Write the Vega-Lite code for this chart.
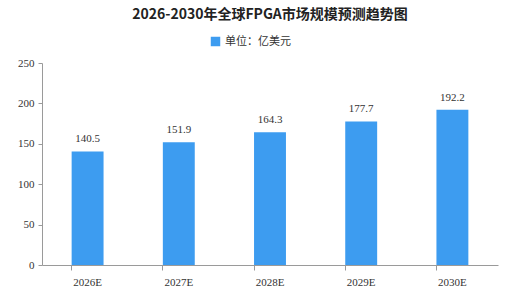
{
  "$schema": "https://vega.github.io/schema/vega-lite/v6.json",
  "autosize": "none",
  "width": 456,
  "height": 202,
  "padding": {"left": 42, "top": 63, "right": 21, "bottom": 30},
  "background": "white",
  "title": {
    "text": "2026-2030年全球FPGA市场规模预测趋势图",
    "font": "Noto Sans CJK SC",
    "fontSize": 14,
    "fontWeight": "bold",
    "color": "#222222",
    "anchor": "middle",
    "offset": 14
  },
  "data": {
    "values": [
      {"year": "2026E", "value": 140.5, "unit": "单位：亿美元"},
      {"year": "2027E", "value": 151.9, "unit": "单位：亿美元"},
      {"year": "2028E", "value": 164.3, "unit": "单位：亿美元"},
      {"year": "2029E", "value": 177.7, "unit": "单位：亿美元"},
      {"year": "2030E", "value": 192.2, "unit": "单位：亿美元"}
    ]
  },
  "encoding": {
    "x": {
      "field": "year",
      "type": "nominal",
      "sort": null,
      "scale": {"paddingInner": 0.65, "paddingOuter": 0.325},
      "axis": {
        "title": null,
        "labelAngle": 0,
        "labelFont": "Liberation Serif",
        "labelFontSize": 11,
        "labelColor": "#333333",
        "labelPadding": 6,
        "domainColor": "#9a9a9a",
        "tickColor": "#9a9a9a",
        "tickSize": 5,
        "bandPosition": 0,
        "grid": false
      }
    },
    "y": {
      "field": "value",
      "type": "quantitative",
      "scale": {"domain": [0, 250]},
      "axis": {
        "title": null,
        "values": [0, 50, 100, 150, 200, 250],
        "labelFont": "Liberation Serif",
        "labelFontSize": 11,
        "labelColor": "#333333",
        "labelPadding": 4,
        "domainColor": "#9a9a9a",
        "tickColor": "#9a9a9a",
        "tickSize": 4,
        "grid": false
      }
    }
  },
  "layer": [
    {
      "mark": {"type": "bar", "color": "#3d9cf0"},
      "encoding": {
        "color": {
          "field": "unit",
          "type": "nominal",
          "scale": {"range": ["#3d9cf0"]},
          "legend": {
            "title": null,
            "orient": "none",
            "legendX": 168,
            "legendY": -27,
            "symbolType": "square",
            "symbolSize": 90,
            "symbolStrokeWidth": 0,
            "labelFont": "Noto Sans CJK SC",
            "labelFontSize": 11,
            "labelColor": "#333333"
          }
        }
      }
    },
    {
      "mark": {"type": "text", "baseline": "bottom", "dy": -7, "font": "Liberation Serif", "fontSize": 11, "color": "#333333"},
      "encoding": {
        "text": {"field": "value", "type": "quantitative", "format": ".1f"}
      }
    }
  ],
  "config": {"view": {"stroke": null}}
}
